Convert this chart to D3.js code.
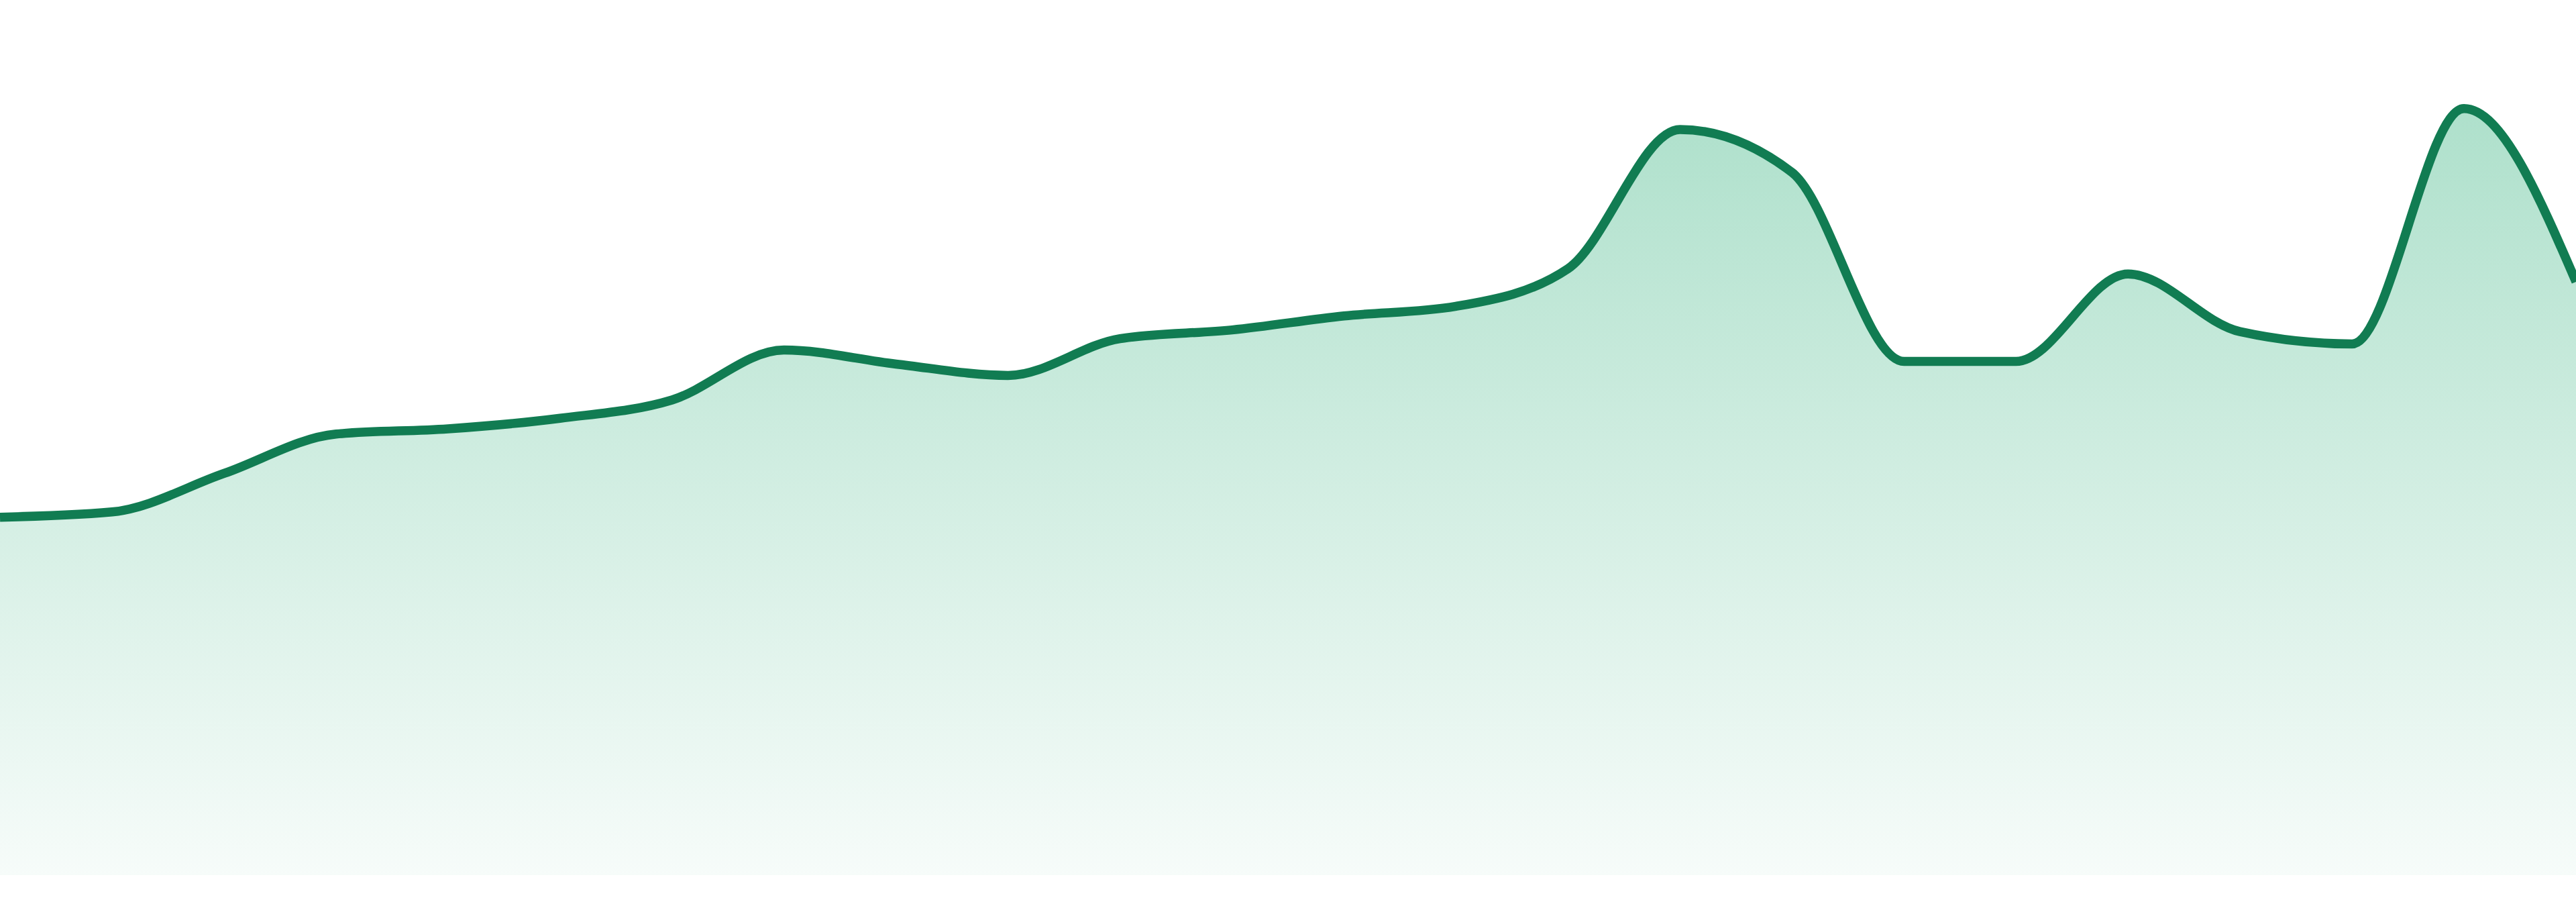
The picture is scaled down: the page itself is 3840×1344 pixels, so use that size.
<!DOCTYPE html>
<html>
<head>
<meta charset="utf-8">
<script src="https://cdn.jsdelivr.net/npm/d3@7"></script>
<style>
  html, body { margin: 0; padding: 0; background: #fff; }
  #chart { width: 3840px; height: 1344px; }
</style>
</head>
<body>
<div id="chart"></div>
<script>
var categories = ['1', '2', '3', '4', '5', '6', '7', '8', '9', '10', '11', '12',
                  '13', '14', '15', '16', '17', '18', '19', '20', '21', '22', '23', '24'];
var values = [40.9, 41.5, 45.9, 50.4, 51.0, 52.2, 54.3, 60.0, 58.4, 57.1, 61.3, 62.3,
              63.9, 65.0, 69.3, 85.2, 80.3, 58.7, 58.7, 68.7, 62.1, 60.7, 87.6, 67.8];
var yDomain = [0, 100];

var width = 3840;
var height = 1344;
var baseline = 1304;

var data = categories.map(function(c, i) { return { cat: c, value: values[i] }; });

var x = d3.scalePoint()
  .domain(categories)
  .range([0, width]);

var y = d3.scaleLinear()
  .domain(yDomain)
  .range([baseline, 0]);

var svg = d3.select('#chart')
  .append('svg')
  .attr('width', width)
  .attr('height', height);

// vertical fade under the line
var grad = svg.append('defs')
  .append('linearGradient')
  .attr('id', 'fill')
  .attr('gradientUnits', 'userSpaceOnUse')
  .attr('x1', 0).attr('x2', 0)
  .attr('y1', y(d3.max(values))).attr('y2', y(0));

grad.append('stop').attr('offset', '0%').attr('stop-color', '#2aae77').attr('stop-opacity', 0.38);
grad.append('stop').attr('offset', '100%').attr('stop-color', '#2aae77').attr('stop-opacity', 0.04);

var area = d3.area()
  .curve(d3.curveMonotoneX)
  .x(function(d) { return x(d.cat); })
  .y0(y(0))
  .y1(function(d) { return y(d.value); });

var line = d3.line()
  .curve(d3.curveMonotoneX)
  .x(function(d) { return x(d.cat); })
  .y(function(d) { return y(d.value); });

svg.append('path')
  .datum(data)
  .attr('d', area)
  .attr('fill', 'url(#fill)');

svg.append('path')
  .datum(data)
  .attr('d', line)
  .attr('fill', 'none')
  .attr('stroke', '#117c52')
  .attr('stroke-width', 13.5)
  .attr('stroke-linejoin', 'round');
</script>
</body>
</html>
